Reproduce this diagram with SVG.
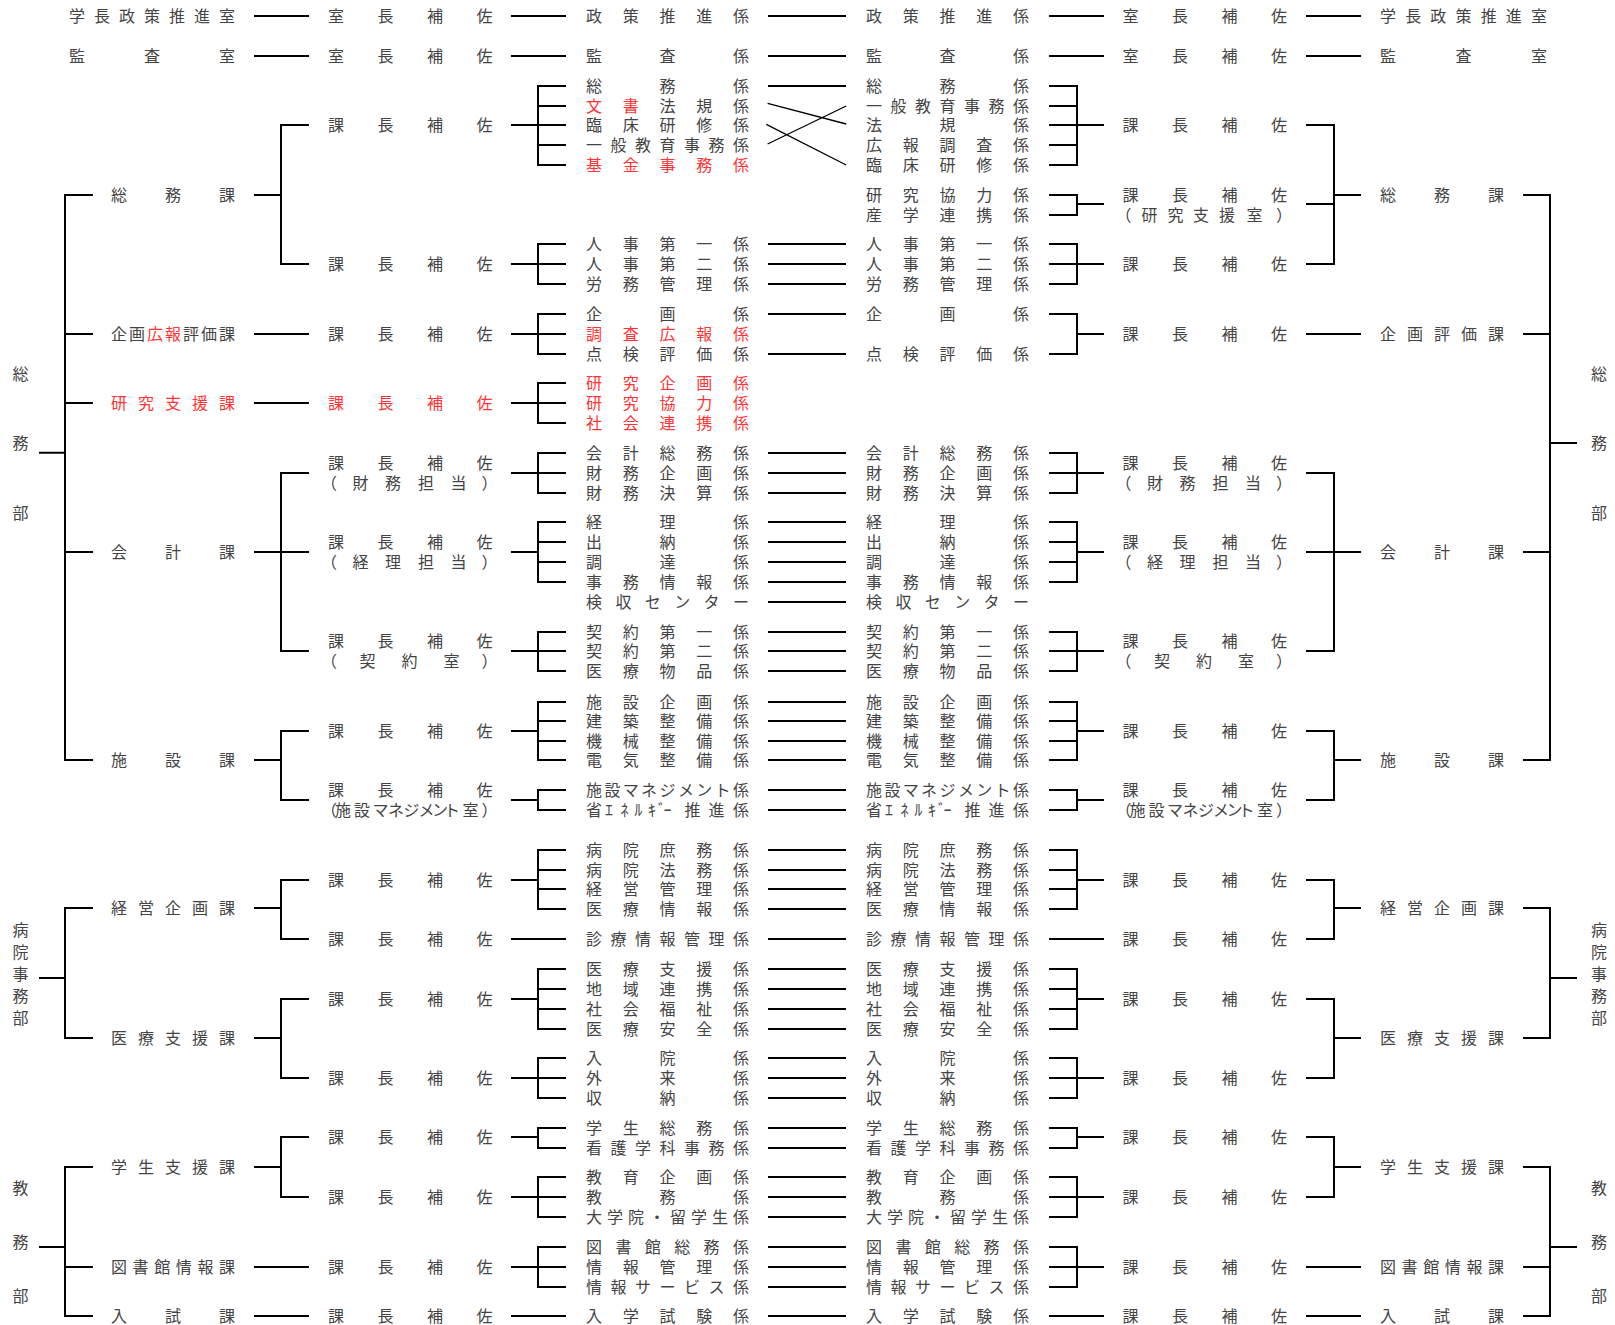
<svg xmlns="http://www.w3.org/2000/svg" width="1615" height="1325" viewBox="0 0 1615 1325">
<style>
.t{font-family:"Liberation Sans","Noto Sans CJK JP","Noto Sans CJK SC",sans-serif;font-size:16px;fill:#444;dominant-baseline:central}
.r{fill:#ff3333}
.ln{stroke:#000;stroke-width:2;fill:none;stroke-linejoin:miter}
.th{stroke-width:1.3}
</style>
<rect width="1615" height="1325" fill="#fff"/>
<g id="connectors" class="ln">
<path d="M39 452.7H65M93 195H65V760H93M65 334H93M65 403H93M65 552H93"/>
<path d="M39 978H65M93 908H65V1038H93"/>
<path d="M39 1247H65M93 1167H65V1316H93M65 1267H93"/>
<path d="M254 16H309M254 56H309"/>
<path d="M254 195H281M309 125H281V264H309"/>
<path d="M254 334H309M254 403H309"/>
<path d="M254 552H309M309 473H281V651H309"/>
<path d="M254 760H281M309 731H281V800H309"/>
<path d="M254 908H281M309 880H281V939H309"/>
<path d="M254 1038H281M309 999H281V1078H309"/>
<path d="M254 1167H281M309 1137H281V1197H309"/>
<path d="M254 1267H309M254 1316H309"/>
<path d="M511 16H566M511 56H566"/>
<path d="M511 125H566M566 86H538V165H566M538 106H566M538 145H566"/>
<path d="M511 264H566M566 244H538V284H566"/>
<path d="M511 334H566M566 314H538V354H566"/>
<path d="M511 403H566M566 383H538V423H566"/>
<path d="M511 473H566M566 453H538V493H566"/>
<path d="M511 552H538M566 522H538V582H566M538 542H566M538 562H566"/>
<path d="M511 651H566M566 632H538V671H566"/>
<path d="M511 731H538M566 702H538V760H566M538 721H566M538 741H566"/>
<path d="M511 800H538M566 790H538V810H566"/>
<path d="M511 880H538M566 850H538V909H566M538 870H566M538 889H566"/>
<path d="M511 939H566"/>
<path d="M511 999H538M566 969H538V1029H566M538 989H566M538 1009H566"/>
<path d="M511 1078H566M566 1058H538V1098H566"/>
<path d="M511 1137H538M566 1128H538V1148H566"/>
<path d="M511 1197H566M566 1177H538V1217H566"/>
<path d="M511 1267H566M566 1247H538V1287H566"/>
<path d="M511 1316H566"/>
<path d="M768 16H846M768 56H846M768 86H846M768 244H846M768 264H846M768 284H846M768 314H846M768 354H846M768 453H846M768 473H846M768 493H846M768 522H846M768 542H846M768 562H846M768 582H846M768 602H846M768 632H846M768 651H846M768 671H846M768 702H846M768 721H846M768 741H846M768 760H846M768 790H846M768 810H846M768 850H846M768 870H846M768 889H846M768 909H846M768 939H846M768 969H846M768 989H846M768 1009H846M768 1029H846M768 1058H846M768 1078H846M768 1098H846M768 1128H846M768 1148H846M768 1177H846M768 1197H846M768 1217H846M768 1247H846M768 1267H846M768 1287H846M768 1316H846"/>
<path class="th" d="M767.6 103.3L846.2 124M766.3 124.3L846.2 165M767.6 144L846.2 106"/>
<path d="M1049 16H1104M1049 56H1104"/>
<path d="M1104 125H1049M1049 86H1077V165H1049M1077 106H1049M1077 145H1049"/>
<path d="M1049 195H1077V215H1049M1077 204H1104"/>
<path d="M1104 264H1049M1049 244H1077V284H1049"/>
<path d="M1049 314H1077V354H1049M1077 334H1104"/>
<path d="M1104 473H1049M1049 453H1077V493H1049"/>
<path d="M1104 552H1077M1049 522H1077V582H1049M1077 542H1049M1077 562H1049"/>
<path d="M1104 651H1049M1049 632H1077V671H1049"/>
<path d="M1104 731H1077M1049 702H1077V760H1049M1077 721H1049M1077 741H1049"/>
<path d="M1104 800H1077M1049 790H1077V810H1049"/>
<path d="M1104 880H1077M1049 850H1077V909H1049M1077 870H1049M1077 889H1049"/>
<path d="M1049 939H1104"/>
<path d="M1104 999H1077M1049 969H1077V1029H1049M1077 989H1049M1077 1009H1049"/>
<path d="M1104 1078H1049M1049 1058H1077V1098H1049"/>
<path d="M1104 1137H1077M1049 1128H1077V1148H1049"/>
<path d="M1104 1197H1049M1049 1177H1077V1217H1049"/>
<path d="M1104 1267H1049M1049 1247H1077V1287H1049"/>
<path d="M1049 1316H1104"/>
<path d="M1306 16H1361M1306 56H1361"/>
<path d="M1361 195H1334M1306 125H1334V264H1306M1306 204H1334"/>
<path d="M1306 334H1361"/>
<path d="M1306 552H1361M1306 473H1334V651H1306"/>
<path d="M1361 760H1334M1306 731H1334V800H1306"/>
<path d="M1361 908H1334M1306 880H1334V939H1306"/>
<path d="M1361 1038H1334M1306 999H1334V1078H1306"/>
<path d="M1361 1167H1334M1306 1137H1334V1197H1306"/>
<path d="M1306 1267H1361M1306 1316H1361"/>
<path d="M1577 443H1550M1523 195H1550V760H1523M1550 334H1523M1550 552H1523"/>
<path d="M1577 978H1550M1523 908H1550V1038H1523"/>
<path d="M1577 1247H1550M1523 1167H1550V1316H1523M1550 1267H1523"/>
</g>

<g id="nodes-left-bu" class="t">
<g id="L-somubu"><text x="12.5 12.5 12.5" y="374 443 513">総務部</text></g>
<g id="L-byoinjimubu"><text x="12.5 12.5 12.5 12.5 12.5" y="930 952 974 996 1018">病院事務部</text></g>
<g id="L-kyomubu"><text x="12.5 12.5 12.5" y="1188 1242 1296">教務部</text></g>
</g>
<g id="nodes-right-bu" class="t">
<g id="R-somubu"><text x="1591 1591 1591" y="374 443 513">総務部</text></g>
<g id="R-byoinjimubu"><text x="1591 1591 1591 1591 1591" y="930 952 974 996 1018">病院事務部</text></g>
<g id="R-kyomubu"><text x="1591 1591 1591" y="1188 1242 1296">教務部</text></g>
</g>

<g id="nodes-left-ka" class="t">
<g id="L-gakucho"><text x="69 94 119 144 169 194 219" y="16">学長政策推進室</text></g>
<g id="L-kansa"><text x="69 144 219" y="56">監査室</text></g>
<g id="L-somuka"><text x="111 165 219" y="195">総務課</text></g>
<g id="L-kikaku"><text y="334"><tspan x="111 129">企画</tspan><tspan class="r" x="147 165">広報</tspan><tspan x="183 201 219">評価課</tspan></text></g>
<g id="L-kenkyu"><text class="r" x="111 138 165 192 219" y="403">研究支援課</text></g>
<g id="L-kaikei"><text x="111 165 219" y="552">会計課</text></g>
<g id="L-shisetsu"><text x="111 165 219" y="760">施設課</text></g>
<g id="L-keiei"><text x="111 138 165 192 219" y="908">経営企画課</text></g>
<g id="L-iryo"><text x="111 138 165 192 219" y="1038">医療支援課</text></g>
<g id="L-gakusei"><text x="111 138 165 192 219" y="1167">学生支援課</text></g>
<g id="L-tosho"><text x="111 132.6 154.2 175.8 197.4 219" y="1267">図書館情報課</text></g>
<g id="L-nyushi"><text x="111 165 219" y="1316">入試課</text></g>
</g>
<g id="nodes-right-ka" class="t">
<g id="R-gakucho"><text x="1380 1405.2 1430.3 1455.5 1480.7 1505.8 1531" y="16">学長政策推進室</text></g>
<g id="R-kansa"><text x="1380 1455.5 1531" y="56">監査室</text></g>
<g id="R-somuka"><text x="1380 1434 1488" y="195">総務課</text></g>
<g id="R-kikaku"><text x="1380 1407 1434 1461 1488" y="334">企画評価課</text></g>
<g id="R-kaikei"><text x="1380 1434 1488" y="552">会計課</text></g>
<g id="R-shisetsu"><text x="1380 1434 1488" y="760">施設課</text></g>
<g id="R-keiei"><text x="1380 1407 1434 1461 1488" y="908">経営企画課</text></g>
<g id="R-iryo"><text x="1380 1407 1434 1461 1488" y="1038">医療支援課</text></g>
<g id="R-gakusei"><text x="1380 1407 1434 1461 1488" y="1167">学生支援課</text></g>
<g id="R-tosho"><text x="1380 1401.6 1423.2 1444.8 1466.4 1488" y="1267">図書館情報課</text></g>
<g id="R-nyushi"><text x="1380 1434 1488" y="1316">入試課</text></g>
</g>

<g id="nodes-left-hosa" class="t">
<g id="L-h16"><text x="328 377.5 427 476.5" y="16">室長補佐</text></g>
<g id="L-h56"><text x="328 377.5 427 476.5" y="56">室長補佐</text></g>
<g id="L-h125"><text x="328 377.5 427 476.5" y="125">課長補佐</text></g>
<g id="L-h264"><text x="328 377.5 427 476.5" y="264">課長補佐</text></g>
<g id="L-h334"><text x="328 377.5 427 476.5" y="334">課長補佐</text></g>
<g id="L-h403"><text class="r" x="328 377.5 427 476.5" y="403">課長補佐</text></g>
<g id="L-h473"><text x="328 377.5 427 476.5" y="463">課長補佐</text><text x="321 352.5 385 418 450.5 481.5" y="483">（財務担当）</text></g>
<g id="L-h552"><text x="328 377.5 427 476.5" y="542">課長補佐</text><text x="321 352.5 385 418 450.5 481.5" y="562">（経理担当）</text></g>
<g id="L-h651"><text x="328 377.5 427 476.5" y="641">課長補佐</text><text x="321 359.5 401.5 443.5 481.5" y="661">（契約室）</text></g>
<g id="L-h731"><text x="328 377.5 427 476.5" y="731">課長補佐</text></g>
<g id="L-h800"><text x="328 377.5 427 476.5" y="790">課長補佐</text><text x="321 335 354 372.5 388 403.5 418.5 432 444 462.5 481.5" y="810">（施設マネジメント室）</text></g>
<g id="L-h880"><text x="328 377.5 427 476.5" y="880">課長補佐</text></g>
<g id="L-h939"><text x="328 377.5 427 476.5" y="939">課長補佐</text></g>
<g id="L-h999"><text x="328 377.5 427 476.5" y="999">課長補佐</text></g>
<g id="L-h1078"><text x="328 377.5 427 476.5" y="1078">課長補佐</text></g>
<g id="L-h1137"><text x="328 377.5 427 476.5" y="1137">課長補佐</text></g>
<g id="L-h1197"><text x="328 377.5 427 476.5" y="1197">課長補佐</text></g>
<g id="L-h1267"><text x="328 377.5 427 476.5" y="1267">課長補佐</text></g>
<g id="L-h1316"><text x="328 377.5 427 476.5" y="1316">課長補佐</text></g>
</g>
<g id="nodes-right-hosa" class="t">
<g id="R-h16"><text x="1122.5 1172 1221.5 1271" y="16">室長補佐</text></g>
<g id="R-h56"><text x="1122.5 1172 1221.5 1271" y="56">室長補佐</text></g>
<g id="R-h125"><text x="1122.5 1172 1221.5 1271" y="125">課長補佐</text></g>
<g id="R-h204"><text x="1122.5 1172 1221.5 1271" y="195">課長補佐</text><text x="1115.5 1141.5 1167.5 1193 1219 1246.5 1276" y="215">（研究支援室）</text></g>
<g id="R-h264"><text x="1122.5 1172 1221.5 1271" y="264">課長補佐</text></g>
<g id="R-h334"><text x="1122.5 1172 1221.5 1271" y="334">課長補佐</text></g>
<g id="R-h473"><text x="1122.5 1172 1221.5 1271" y="463">課長補佐</text><text x="1115.5 1147 1179.5 1212.5 1245 1276" y="483">（財務担当）</text></g>
<g id="R-h552"><text x="1122.5 1172 1221.5 1271" y="542">課長補佐</text><text x="1115.5 1147 1179.5 1212.5 1245 1276" y="562">（経理担当）</text></g>
<g id="R-h651"><text x="1122.5 1172 1221.5 1271" y="641">課長補佐</text><text x="1115.5 1154 1196 1238 1276" y="661">（契約室）</text></g>
<g id="R-h731"><text x="1122.5 1172 1221.5 1271" y="731">課長補佐</text></g>
<g id="R-h800"><text x="1122.5 1172 1221.5 1271" y="790">課長補佐</text><text x="1115.5 1129.5 1148.5 1167 1182.5 1198 1213 1226.5 1238.5 1257 1276" y="810">（施設マネジメント室）</text></g>
<g id="R-h880"><text x="1122.5 1172 1221.5 1271" y="880">課長補佐</text></g>
<g id="R-h939"><text x="1122.5 1172 1221.5 1271" y="939">課長補佐</text></g>
<g id="R-h999"><text x="1122.5 1172 1221.5 1271" y="999">課長補佐</text></g>
<g id="R-h1078"><text x="1122.5 1172 1221.5 1271" y="1078">課長補佐</text></g>
<g id="R-h1137"><text x="1122.5 1172 1221.5 1271" y="1137">課長補佐</text></g>
<g id="R-h1197"><text x="1122.5 1172 1221.5 1271" y="1197">課長補佐</text></g>
<g id="R-h1267"><text x="1122.5 1172 1221.5 1271" y="1267">課長補佐</text></g>
<g id="R-h1316"><text x="1122.5 1172 1221.5 1271" y="1316">課長補佐</text></g>
</g>

<g id="nodes-left-kakari" class="t">
<g id="L-k16"><text x="586 622.75 659.5 696.25 733" y="16">政策推進係</text></g>
<g id="L-k56"><text x="586 659.5 733" y="56">監査係</text></g>
<g id="L-k86"><text x="586 659.5 733" y="86">総務係</text></g>
<g id="L-k106"><text y="106"><tspan class="r" x="586 622.75">文書</tspan><tspan x="659.5 696.25 733">法規係</tspan></text></g>
<g id="L-k125"><text x="586 622.75 659.5 696.25 733" y="125">臨床研修係</text></g>
<g id="L-k145"><text x="586 610.5 635 659.5 684 708.5 733" y="145">一般教育事務係</text></g>
<g id="L-k165"><text class="r" x="586 622.75 659.5 696.25 733" y="165">基金事務係</text></g>
<g id="L-k244"><text x="586 622.75 659.5 696.25 733" y="244">人事第一係</text></g>
<g id="L-k264"><text x="586 622.75 659.5 696.25 733" y="264">人事第二係</text></g>
<g id="L-k284"><text x="586 622.75 659.5 696.25 733" y="284">労務管理係</text></g>
<g id="L-k314"><text x="586 659.5 733" y="314">企画係</text></g>
<g id="L-k334"><text class="r" x="586 622.75 659.5 696.25 733" y="334">調査広報係</text></g>
<g id="L-k354"><text x="586 622.75 659.5 696.25 733" y="354">点検評価係</text></g>
<g id="L-k383"><text class="r" x="586 622.75 659.5 696.25 733" y="383">研究企画係</text></g>
<g id="L-k403"><text class="r" x="586 622.75 659.5 696.25 733" y="403">研究協力係</text></g>
<g id="L-k423"><text class="r" x="586 622.75 659.5 696.25 733" y="423">社会連携係</text></g>
<g id="L-k453"><text x="586 622.75 659.5 696.25 733" y="453">会計総務係</text></g>
<g id="L-k473"><text x="586 622.75 659.5 696.25 733" y="473">財務企画係</text></g>
<g id="L-k493"><text x="586 622.75 659.5 696.25 733" y="493">財務決算係</text></g>
<g id="L-k522"><text x="586 659.5 733" y="522">経理係</text></g>
<g id="L-k542"><text x="586 659.5 733" y="542">出納係</text></g>
<g id="L-k562"><text x="586 659.5 733" y="562">調達係</text></g>
<g id="L-k582"><text x="586 622.75 659.5 696.25 733" y="582">事務情報係</text></g>
<g id="L-k602"><text x="586 615.4 644.8 674.2 703.6 733" y="602">検収センター</text></g>
<g id="L-k632"><text x="586 622.75 659.5 696.25 733" y="632">契約第一係</text></g>
<g id="L-k651"><text x="586 622.75 659.5 696.25 733" y="651">契約第二係</text></g>
<g id="L-k671"><text x="586 622.75 659.5 696.25 733" y="671">医療物品係</text></g>
<g id="L-k702"><text x="586 622.75 659.5 696.25 733" y="702">施設企画係</text></g>
<g id="L-k721"><text x="586 622.75 659.5 696.25 733" y="721">建築整備係</text></g>
<g id="L-k741"><text x="586 622.75 659.5 696.25 733" y="741">機械整備係</text></g>
<g id="L-k760"><text x="586 622.75 659.5 696.25 733" y="760">電気整備係</text></g>
<g id="L-k790"><text x="586 604.4 622.8 641.1 659.5 677.9 696.3 714.6 733" y="790">施設マネジメント係</text></g>
<g id="L-k810"><text x="586 605 620.5 634.5 648 658 663.5 684.5 708.5 733" y="810">省ｴﾈﾙｷﾞｰ推進係</text></g>
<g id="L-k850"><text x="586 622.75 659.5 696.25 733" y="850">病院庶務係</text></g>
<g id="L-k870"><text x="586 622.75 659.5 696.25 733" y="870">病院法務係</text></g>
<g id="L-k889"><text x="586 622.75 659.5 696.25 733" y="889">経営管理係</text></g>
<g id="L-k909"><text x="586 622.75 659.5 696.25 733" y="909">医療情報係</text></g>
<g id="L-k939"><text x="586 610.5 635 659.5 684 708.5 733" y="939">診療情報管理係</text></g>
<g id="L-k969"><text x="586 622.75 659.5 696.25 733" y="969">医療支援係</text></g>
<g id="L-k989"><text x="586 622.75 659.5 696.25 733" y="989">地域連携係</text></g>
<g id="L-k1009"><text x="586 622.75 659.5 696.25 733" y="1009">社会福祉係</text></g>
<g id="L-k1029"><text x="586 622.75 659.5 696.25 733" y="1029">医療安全係</text></g>
<g id="L-k1058"><text x="586 659.5 733" y="1058">入院係</text></g>
<g id="L-k1078"><text x="586 659.5 733" y="1078">外来係</text></g>
<g id="L-k1098"><text x="586 659.5 733" y="1098">収納係</text></g>
<g id="L-k1128"><text x="586 622.75 659.5 696.25 733" y="1128">学生総務係</text></g>
<g id="L-k1148"><text x="586 610.5 635 659.5 684 708.5 733" y="1148">看護学科事務係</text></g>
<g id="L-k1177"><text x="586 622.75 659.5 696.25 733" y="1177">教育企画係</text></g>
<g id="L-k1197"><text x="586 659.5 733" y="1197">教務係</text></g>
<g id="L-k1217"><text x="586 607 628 649 670 691 712 733" y="1217">大学院・留学生係</text></g>
<g id="L-k1247"><text x="586 615.4 644.8 674.2 703.6 733" y="1247">図書館総務係</text></g>
<g id="L-k1267"><text x="586 622.75 659.5 696.25 733" y="1267">情報管理係</text></g>
<g id="L-k1287"><text x="586 610.5 635 659.5 684 708.5 733" y="1287">情報サービス係</text></g>
<g id="L-k1316"><text x="586 622.75 659.5 696.25 733" y="1316">入学試験係</text></g>
</g>

<g id="nodes-right-kakari" class="t">
<g id="R-k16"><text x="866 902.75 939.5 976.25 1013" y="16">政策推進係</text></g>
<g id="R-k56"><text x="866 939.5 1013" y="56">監査係</text></g>
<g id="R-k86"><text x="866 939.5 1013" y="86">総務係</text></g>
<g id="R-k106"><text x="866 890.5 915 939.5 964 988.5 1013" y="106">一般教育事務係</text></g>
<g id="R-k125"><text x="866 939.5 1013" y="125">法規係</text></g>
<g id="R-k145"><text x="866 902.75 939.5 976.25 1013" y="145">広報調査係</text></g>
<g id="R-k165"><text x="866 902.75 939.5 976.25 1013" y="165">臨床研修係</text></g>
<g id="R-k195"><text x="866 902.75 939.5 976.25 1013" y="195">研究協力係</text></g>
<g id="R-k215"><text x="866 902.75 939.5 976.25 1013" y="215">産学連携係</text></g>
<g id="R-k244"><text x="866 902.75 939.5 976.25 1013" y="244">人事第一係</text></g>
<g id="R-k264"><text x="866 902.75 939.5 976.25 1013" y="264">人事第二係</text></g>
<g id="R-k284"><text x="866 902.75 939.5 976.25 1013" y="284">労務管理係</text></g>
<g id="R-k314"><text x="866 939.5 1013" y="314">企画係</text></g>
<g id="R-k354"><text x="866 902.75 939.5 976.25 1013" y="354">点検評価係</text></g>
<g id="R-k453"><text x="866 902.75 939.5 976.25 1013" y="453">会計総務係</text></g>
<g id="R-k473"><text x="866 902.75 939.5 976.25 1013" y="473">財務企画係</text></g>
<g id="R-k493"><text x="866 902.75 939.5 976.25 1013" y="493">財務決算係</text></g>
<g id="R-k522"><text x="866 939.5 1013" y="522">経理係</text></g>
<g id="R-k542"><text x="866 939.5 1013" y="542">出納係</text></g>
<g id="R-k562"><text x="866 939.5 1013" y="562">調達係</text></g>
<g id="R-k582"><text x="866 902.75 939.5 976.25 1013" y="582">事務情報係</text></g>
<g id="R-k602"><text x="866 895.4 924.8 954.2 983.6 1013" y="602">検収センター</text></g>
<g id="R-k632"><text x="866 902.75 939.5 976.25 1013" y="632">契約第一係</text></g>
<g id="R-k651"><text x="866 902.75 939.5 976.25 1013" y="651">契約第二係</text></g>
<g id="R-k671"><text x="866 902.75 939.5 976.25 1013" y="671">医療物品係</text></g>
<g id="R-k702"><text x="866 902.75 939.5 976.25 1013" y="702">施設企画係</text></g>
<g id="R-k721"><text x="866 902.75 939.5 976.25 1013" y="721">建築整備係</text></g>
<g id="R-k741"><text x="866 902.75 939.5 976.25 1013" y="741">機械整備係</text></g>
<g id="R-k760"><text x="866 902.75 939.5 976.25 1013" y="760">電気整備係</text></g>
<g id="R-k790"><text x="866 884.4 902.8 921.1 939.5 957.9 976.3 994.6 1013" y="790">施設マネジメント係</text></g>
<g id="R-k810"><text x="866 885 900.5 914.5 928 938 943.5 964.5 988.5 1013" y="810">省ｴﾈﾙｷﾞｰ推進係</text></g>
<g id="R-k850"><text x="866 902.75 939.5 976.25 1013" y="850">病院庶務係</text></g>
<g id="R-k870"><text x="866 902.75 939.5 976.25 1013" y="870">病院法務係</text></g>
<g id="R-k889"><text x="866 902.75 939.5 976.25 1013" y="889">経営管理係</text></g>
<g id="R-k909"><text x="866 902.75 939.5 976.25 1013" y="909">医療情報係</text></g>
<g id="R-k939"><text x="866 890.5 915 939.5 964 988.5 1013" y="939">診療情報管理係</text></g>
<g id="R-k969"><text x="866 902.75 939.5 976.25 1013" y="969">医療支援係</text></g>
<g id="R-k989"><text x="866 902.75 939.5 976.25 1013" y="989">地域連携係</text></g>
<g id="R-k1009"><text x="866 902.75 939.5 976.25 1013" y="1009">社会福祉係</text></g>
<g id="R-k1029"><text x="866 902.75 939.5 976.25 1013" y="1029">医療安全係</text></g>
<g id="R-k1058"><text x="866 939.5 1013" y="1058">入院係</text></g>
<g id="R-k1078"><text x="866 939.5 1013" y="1078">外来係</text></g>
<g id="R-k1098"><text x="866 939.5 1013" y="1098">収納係</text></g>
<g id="R-k1128"><text x="866 902.75 939.5 976.25 1013" y="1128">学生総務係</text></g>
<g id="R-k1148"><text x="866 890.5 915 939.5 964 988.5 1013" y="1148">看護学科事務係</text></g>
<g id="R-k1177"><text x="866 902.75 939.5 976.25 1013" y="1177">教育企画係</text></g>
<g id="R-k1197"><text x="866 939.5 1013" y="1197">教務係</text></g>
<g id="R-k1217"><text x="866 887 908 929 950 971 992 1013" y="1217">大学院・留学生係</text></g>
<g id="R-k1247"><text x="866 895.4 924.8 954.2 983.6 1013" y="1247">図書館総務係</text></g>
<g id="R-k1267"><text x="866 902.75 939.5 976.25 1013" y="1267">情報管理係</text></g>
<g id="R-k1287"><text x="866 890.5 915 939.5 964 988.5 1013" y="1287">情報サービス係</text></g>
<g id="R-k1316"><text x="866 902.75 939.5 976.25 1013" y="1316">入学試験係</text></g>
</g>
</svg>
